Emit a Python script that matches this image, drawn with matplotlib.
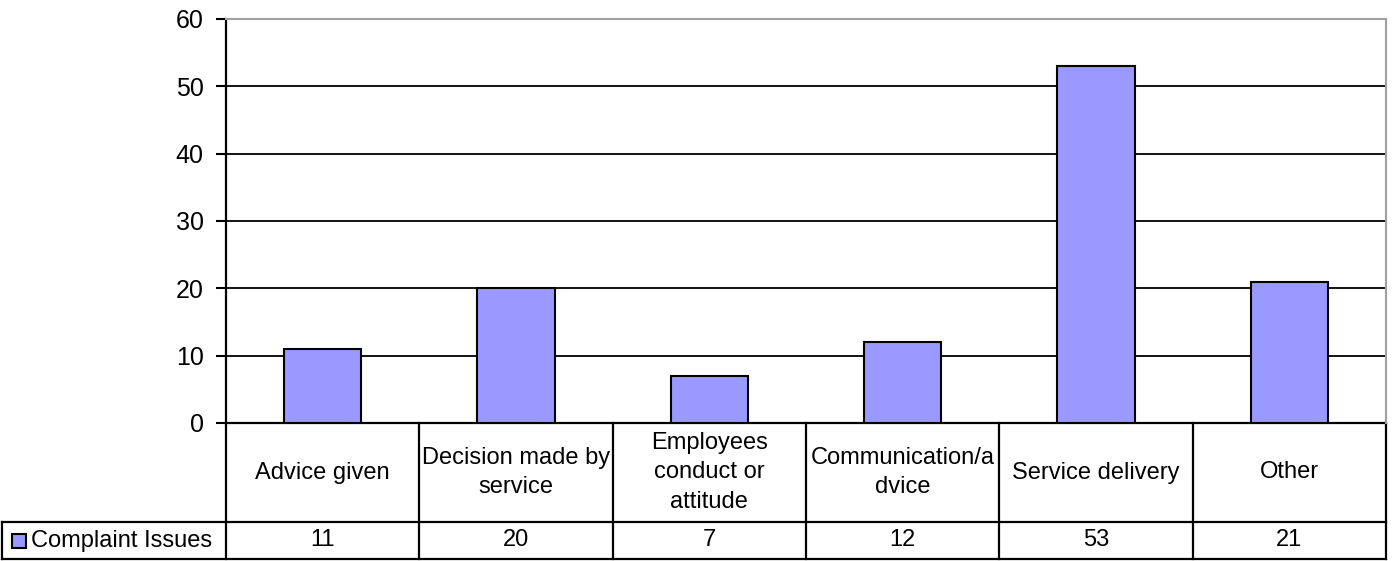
import matplotlib.pyplot as plt
from matplotlib.patches import Rectangle
from matplotlib.lines import Line2D

plt.rcParams['font.family'] = ['Liberation Sans', 'DejaVu Sans']

# chart data
categories = ['Advice given', 'Decision made by\nservice', 'Employees\nconduct or\nattitude',
              'Communication/a\ndvice', 'Service delivery', 'Other']
values = [11, 20, 7, 12, 53, 21]
series_name = 'Complaint Issues'
yticks = [0, 10, 20, 30, 40, 50, 60]

bar_color = '#9999ff'
W, H = 1393, 561

fig = plt.figure(figsize=(W / 100, H / 100), dpi=100)
ax = fig.add_axes([226 / W, 1 - 423 / H, 1160 / W, 404 / H])

x = list(range(len(values)))
ax.bar(x, values, width=0.4, color=bar_color, edgecolor='black', linewidth=1.5, zorder=3)
ax.set_xlim(-0.5, len(values) - 0.5)
ax.set_ylim(0, 60)
ax.set_yticks(yticks)
ax.tick_params(axis='y', labelsize=18, length=7, width=1.5, direction='out', pad=9)
ax.set_xticks([])

# black gridlines, plot border grey on top/right
for t in yticks[1:-1]:
    ax.axhline(t, color='black', lw=1.3, zorder=1)
ax.spines['left'].set_linewidth(1.6)
ax.spines['bottom'].set_visible(False)
ax.spines['top'].set_color('#a0a0a0')
ax.spines['right'].set_color('#a0a0a0')
ax.spines['top'].set_linewidth(1.5)
ax.spines['right'].set_linewidth(1.5)

# data table under the plot, in axes coordinates
tr = ax.transAxes
row1 = -99 / 404
row2 = -136 / 404
head = -224 / 1160
n = len(values)
kw = dict(transform=tr, color='black', lw=1.6, clip_on=False)
ax.add_line(Line2D([0, 1], [0, 0], **kw))
ax.add_line(Line2D([head, 1], [row1, row1], **kw))
ax.add_line(Line2D([head, 1], [row2, row2], **kw))
ax.add_line(Line2D([head, head], [row1, row2], **kw))
for i in range(n + 1):
    ax.add_line(Line2D([i / n, i / n], [0, row2], **kw))

for i, (c, v) in enumerate(zip(categories, values)):
    xc = (i + 0.5) / n
    ax.text(xc, row1 / 2, c, transform=tr, ha='center', va='center', fontsize=17,
            linespacing=1.42)
    ax.text(xc, (row1 + row2) / 2, str(v), transform=tr, ha='center', va='center',
            fontsize=17)

# legend key inside header cell
ax.add_patch(Rectangle((head + 10 / 1160, (row1 + row2) / 2 - 7 / 404), 14 / 1160, 14 / 404,
                       transform=tr, facecolor=bar_color, edgecolor='black', lw=1.5,
                       clip_on=False))
ax.text(head + 29 / 1160, (row1 + row2) / 2, series_name, transform=tr, ha='left',
        va='center', fontsize=17)

fig.savefig('out.png', dpi=100)
